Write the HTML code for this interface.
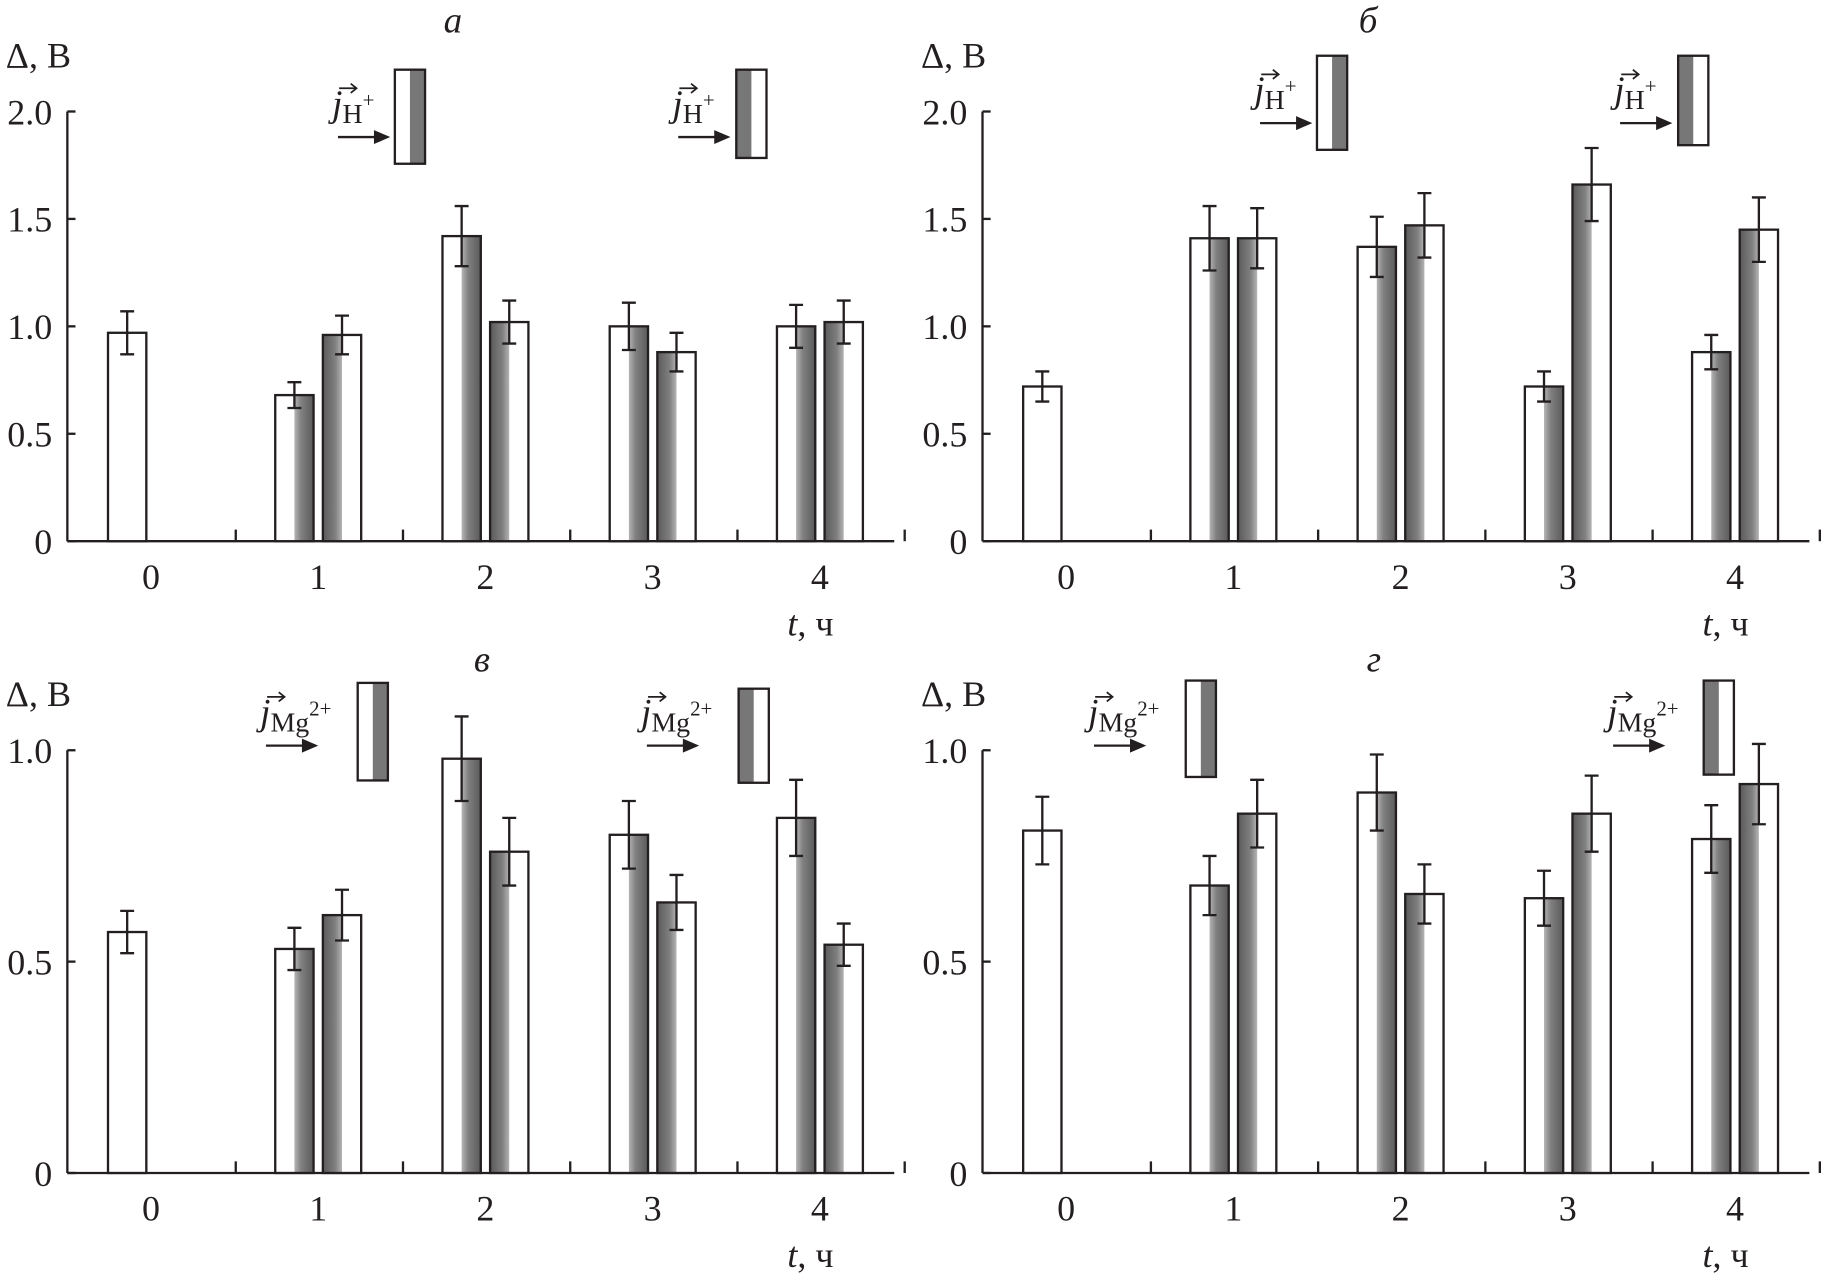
<!DOCTYPE html>
<html><head><meta charset="utf-8"><style>
html,body{margin:0;padding:0;background:#fff;}
svg{display:block;}
text{font-family:"Liberation Serif","DejaVu Serif",serif;fill:#231f20;}
</style></head><body>
<svg id="chart" width="1821" height="1281" viewBox="0 0 1568 1103" preserveAspectRatio="none" xmlns="http://www.w3.org/2000/svg">
<defs>
<linearGradient id="gA" x1="0" x2="1" y1="0" y2="0"><stop offset="0" stop-color="#b4b4b4"/><stop offset="0.35" stop-color="#808080"/><stop offset="1" stop-color="#5a5a5a"/></linearGradient>
<linearGradient id="gB" x1="0" x2="1" y1="0" y2="0"><stop offset="0" stop-color="#5a5a5a"/><stop offset="0.65" stop-color="#808080"/><stop offset="1" stop-color="#b4b4b4"/></linearGradient>
</defs>
<g id="root"></g>
</svg>
<script>
// Panel а
const catsA = [0,1,2,3,4];
const a1 = [0.97,0.68,1.42,1.00,1.00];
const a1e = [0.10,0.06,0.14,0.11,0.10];
const a2 = [null,0.96,1.02,0.88,1.02];
const a2e = [null,0.09,0.10,0.09,0.10];
// Panel б
const b1 = [0.72,1.41,1.37,0.72,0.88];
const b1e = [0.07,0.15,0.14,0.07,0.08];
const b2 = [null,1.41,1.47,1.66,1.45];
const b2e = [null,0.14,0.15,0.17,0.15];
// Panel в
const v1 = [0.57,0.53,0.98,0.80,0.84];
const v1e = [0.05,0.05,0.10,0.08,0.09];
const v2 = [null,0.61,0.76,0.64,0.54];
const v2e = [null,0.06,0.08,0.065,0.05];
// Panel г
const g1 = [0.81,0.68,0.90,0.65,0.79];
const g1e = [0.08,0.07,0.09,0.065,0.08];
const g2 = [null,0.85,0.66,0.85,0.92];
const g2e = [null,0.08,0.07,0.09,0.095];
const ticksTop = ["0","0.5","1.0","1.5","2.0"];
const ticksTopV = [0,0.5,1.0,1.5,2.0];
const ticksBot = ["0","0.5","1.0"];
const ticksBotV = [0,0.5,1.0];

const NS="http://www.w3.org/2000/svg";
const root=document.getElementById('root');
function el(tag,attrs,parent,txt){const e=document.createElementNS(NS,tag);for(const k in attrs)e.setAttribute(k,attrs[k]);if(txt!==undefined)e.textContent=txt;(parent||root).appendChild(e);return e;}

function icon(g,x,y,h,type){
  const w=26;
  const ic=el('g',{},g);
  
  
  el('rect',{x:x,y:y,width:w,height:h,fill:'#fff'},ic);
  el('rect',{x:type==='wg'?x+w/2:x,y:y,width:w/2,height:h,fill:'#777'},ic);
  el('rect',{x:x,y:y,width:w,height:h,fill:'none',stroke:'#231f20','stroke-width':2},ic);
}
function label(g,x,y,ion){
  const lg=el('g',{},g);
  
  
  const t=el('text',{x:x,y:y,'font-size':32},lg);
  el('tspan',{'font-style':'italic'},t,'j');
  el('tspan',{'font-size':24,dy:6},t,ion);
  el('tspan',{'font-size':18,dy:-14},t,ion==='H'?'+':'2+');
  el('line',{x1:x+6,y1:y-24,x2:x+20,y2:y-24,stroke:'#231f20','stroke-width':1.5},lg);
  el('path',{d:`M${x+16},${y-28} L${x+21},${y-24} L${x+16},${y-20}`,fill:'none',stroke:'#231f20','stroke-width':1.5},lg);
  el('line',{x1:x+5,y1:y+18,x2:x+40,y2:y+18,stroke:'#231f20','stroke-width':2},lg);
  el('path',{d:`M${x+36},${y+12} L${x+50},${y+18} L${x+36},${y+24} Z`,fill:'#231f20'},lg);
}

function panel(cfg){
  const g=el('g',{});
  
  
  const X0=cfg.ax, Y0=cfg.y0, ppu=cfg.ppu;
  const y=v=>Y0-v*ppu;
  const cx=i=>cfg.c0+i*144;
  const ya=el('line',{x1:X0,y1:y(cfg.ymax),x2:X0,y2:Y0,stroke:'#231f20','stroke-width':2},g);
  
  
  const xa=el('line',{x1:X0,y1:Y0,x2:X0+712,y2:Y0,stroke:'#231f20','stroke-width':2},g);
  
  
  cfg.tv.forEach((v,i)=>{
    el('line',{x1:X0,y1:y(v),x2:X0+7,y2:y(v),stroke:'#231f20','stroke-width':2},g);
    const t=el('text',{x:X0-13,y:y(v)+11,'font-size':31,'text-anchor':'end'},g,cfg.tl[i]);
    
    
  });
  for(let i=0;i<5;i++){
    el('line',{x1:cx(i)+73,y1:Y0,x2:cx(i)+73,y2:Y0-10,stroke:'#231f20','stroke-width':2},g);
    const t=el('text',{x:cx(i),y:Y0+41,'font-size':31,'text-anchor':'middle'},g,String(catsA[i]));
    
    
  }
  const xt=el('text',{x:X0+620,y:Y0+81,'font-size':31},g);
  
  
  el('tspan',{'font-style':'italic'},xt,'t');
  el('tspan',{},xt,', ч');
  const yt=el('text',{x:cfg.ax-53,y:cfg.yt,'font-size':31},g,'Δ, В');
  
  
  const tt=el('text',{x:cfg.tx,y:cfg.ty,'font-size':32,'font-style':'italic','text-anchor':'middle'},g,cfg.id);
  
  
  const W=33;
  function bar(xl,v,e,type){
    const bg=el('g',{},g);
    
    
    const top=y(v),h=Y0-top;
    el('rect',{x:xl,y:top,width:W,height:h,fill:'#fff'},bg);
    if(type!=='w') el('rect',{x:type==='wg'?xl+W/2:xl,y:top,width:W/2,height:h,fill:type==='wg'?'url(#gA)':'url(#gB)'},bg);
    el('rect',{x:xl,y:top,width:W,height:h,fill:'none',stroke:'#231f20','stroke-width':2},bg);
    const m=xl+W/2;
    const eb=el('path',{d:`M${m},${y(v+e)}V${y(v-e)}M${m-6},${y(v+e)}H${m+6}M${m-6},${y(v-e)}H${m+6}`,stroke:'#231f20','stroke-width':2,fill:'none'},bg);
    
    
  }
  for(let i=0;i<5;i++){
    if(cfg.s1[i]!=null) bar(cx(i)-37,cfg.s1[i],cfg.e1[i],i===0?'w':'wg');
    if(cfg.s2[i]!=null) bar(cx(i)+4,cfg.s2[i],cfg.e2[i],'gw');
  }
  cfg.legend.forEach(L=>{label(g,L.lx,L.ly,cfg.ion);icon(g,L.ix,L.iy,L.ih,L.t);});
}

panel({id:'а',ax:58,y0:466,ppu:185,ymax:2.0,c0:130,tv:ticksTopV,tl:ticksTop,yt:58,tx:390,ty:28,s1:a1,e1:a1e,s2:a2,e2:a2e,ion:'H',
 legend:[{lx:286,ly:100,ix:340,iy:60,ih:81,t:'wg'},{lx:579,ly:100,ix:634,iy:60,ih:76,t:'gw'}]});
panel({id:'б',ax:846,y0:466,ppu:185,ymax:2.0,c0:918,tv:ticksTopV,tl:ticksTop,yt:58,tx:1178,ty:28,s1:b1,e1:b1e,s2:b2,e2:b2e,ion:'H',
 legend:[{lx:1080,ly:88,ix:1134,iy:48,ih:81,t:'wg'},{lx:1390,ly:88,ix:1445,iy:48,ih:77,t:'gw'}]});
panel({id:'в',ax:58,y0:1010,ppu:364,ymax:1.0,c0:130,tv:ticksBotV,tl:ticksBot,yt:608,tx:415,ty:578,s1:v1,e1:v1e,s2:v2,e2:v2e,ion:'Mg',
 legend:[{lx:224,ly:624,ix:308,iy:588,ih:84,t:'wg'},{lx:552,ly:624,ix:636,iy:593,ih:81,t:'gw'}]});
panel({id:'г',ax:846,y0:1010,ppu:364,ymax:1.0,c0:918,tv:ticksBotV,tl:ticksBot,yt:608,tx:1183,ty:578,s1:g1,e1:g1e,s2:g2,e2:g2e,ion:'Mg',
 legend:[{lx:937,ly:624,ix:1021,iy:586,ih:83,t:'wg'},{lx:1384,ly:624,ix:1467,iy:586,ih:81,t:'gw'}]});
</script>
</body></html>
